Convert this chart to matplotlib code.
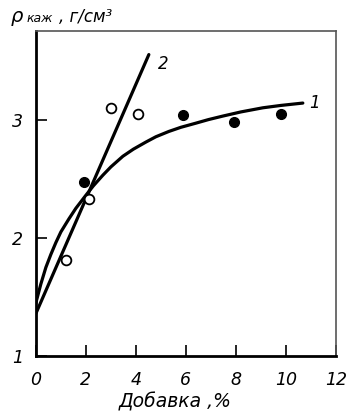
import matplotlib.pyplot as plt

# curve 1
curve1_x = [0.0, 0.2, 0.4, 0.6, 0.8, 1.0, 1.32, 1.6, 2.0, 2.3, 2.68, 3.0, 3.48,
            3.9, 4.4, 4.8, 5.32, 5.8, 6.4, 6.9, 7.48, 8.2, 9.08, 9.8, 10.68]
curve1_y = [1.45, 1.61, 1.75, 1.86, 1.96, 2.05, 2.16, 2.25, 2.36, 2.44, 2.53, 2.60, 2.69,
            2.75, 2.81, 2.855, 2.90, 2.935, 2.97, 3.0, 3.03, 3.065, 3.10, 3.12, 3.14]

# line 2
line2_x = [0.0, 4.52]
line2_y = [1.36, 3.55]

# filled points
filled_x = [1.92, 5.88, 7.92, 9.8]
filled_y = [2.47, 3.04, 2.98, 3.05]

# open points
open_x = [1.2, 2.12, 3.0, 4.08]
open_y = [1.81, 2.33, 3.10, 3.05]

x_ticks = [0, 2, 4, 6, 8, 10, 12]
y_ticks = [1, 2, 3]

fig = plt.figure(figsize=(3.55, 4.18), dpi=100)
ax = fig.add_axes([0.101, 0.148, 0.845, 0.778])

ax.plot(curve1_x, curve1_y, color="black", lw=2.3, solid_capstyle="round",
        solid_joinstyle="round")
ax.plot(line2_x, line2_y, color="black", lw=2.3, solid_capstyle="round")
ax.plot(filled_x, filled_y, "o", color="black", ms=7, zorder=3)
ax.plot(open_x, open_y, "o", mfc="white", mec="black", mew=1.3, ms=7, zorder=3)

ax.set_xlim(0, 12)
ax.set_ylim(1, 3.75)
ax.set_xticks(x_ticks)
ax.set_yticks(y_ticks)
ax.set_xticklabels([str(t) for t in x_ticks], style="italic", fontsize=12.5)
ax.set_yticklabels([str(t) for t in y_ticks], style="italic", fontsize=12.5)
ax.tick_params(direction="in", length=8, width=1.2)
ax.tick_params(axis="x", pad=11)
ax.tick_params(axis="y", pad=9)

for side in ["left", "bottom"]:
    ax.spines[side].set_linewidth(2)
for side in ["top", "right"]:
    ax.spines[side].set_linewidth(1.2)
    ax.spines[side].set_color("#555555")

ax.text(10.95, 3.14, "1", style="italic", fontsize=12, va="center")
ax.text(4.9, 3.47, "2", style="italic", fontsize=12, va="center")

ax.set_xlabel("Добавка ,%", style="italic", fontsize=13.5)
ax.xaxis.set_label_coords(0.465, -0.11)

fig.text(0.03, 0.96, "ρ", style="italic", fontsize=14, va="center")
fig.text(0.075, 0.955, "каж", style="italic", fontsize=9, va="center")
fig.text(0.165, 0.96, ", г/см³", style="italic", fontsize=12, va="center")

fig.savefig("out.png", dpi=100)
